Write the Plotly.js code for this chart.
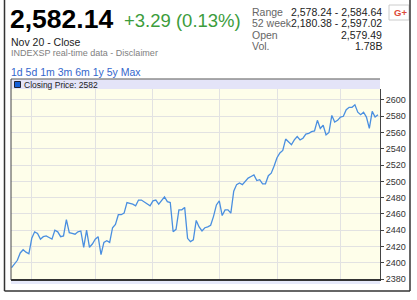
<!DOCTYPE html>
<html>
<head>
<meta charset="utf-8">
<script src="https://cdn.plot.ly/plotly-3.0.1.min.js"></script>
<style>
html,body{margin:0;padding:0;background:#fff;}
#chart{width:417px;height:300px;}
</style>
</head>
<body>
<div id="chart"></div>
<script>
// ---- data ----
const dates = [
'2017-05-22','2017-05-23','2017-05-24','2017-05-25','2017-05-26','2017-05-30','2017-05-31',
'2017-06-01','2017-06-02','2017-06-05','2017-06-06','2017-06-07','2017-06-08','2017-06-09','2017-06-12','2017-06-13','2017-06-14','2017-06-15','2017-06-16','2017-06-19','2017-06-20','2017-06-21','2017-06-22','2017-06-23','2017-06-26','2017-06-27','2017-06-28','2017-06-29','2017-06-30',
'2017-07-03','2017-07-05','2017-07-06','2017-07-07','2017-07-10','2017-07-11','2017-07-12','2017-07-13','2017-07-14','2017-07-17','2017-07-18','2017-07-19','2017-07-20','2017-07-21','2017-07-24','2017-07-25','2017-07-26','2017-07-27','2017-07-28','2017-07-31',
'2017-08-01','2017-08-02','2017-08-03','2017-08-04','2017-08-07','2017-08-08','2017-08-09','2017-08-10','2017-08-11','2017-08-14','2017-08-15','2017-08-16','2017-08-17','2017-08-18','2017-08-21','2017-08-22','2017-08-23','2017-08-24','2017-08-25','2017-08-28','2017-08-29','2017-08-30','2017-08-31',
'2017-09-01','2017-09-05','2017-09-06','2017-09-07','2017-09-08','2017-09-11','2017-09-12','2017-09-13','2017-09-14','2017-09-15','2017-09-18','2017-09-19','2017-09-20','2017-09-21','2017-09-22','2017-09-25','2017-09-26','2017-09-27','2017-09-28','2017-09-29',
'2017-10-02','2017-10-03','2017-10-04','2017-10-05','2017-10-06','2017-10-09','2017-10-10','2017-10-11','2017-10-12','2017-10-13','2017-10-16','2017-10-17','2017-10-18','2017-10-19','2017-10-20','2017-10-23','2017-10-24','2017-10-25','2017-10-26','2017-10-27','2017-10-30','2017-10-31',
'2017-11-01','2017-11-02','2017-11-03','2017-11-06','2017-11-07','2017-11-08','2017-11-09','2017-11-10','2017-11-13','2017-11-14','2017-11-15','2017-11-16','2017-11-17','2017-11-20'
];
const closes = [
2394,2398,2403,2412,2416,2413,2411,
2430,2438,2436,2429,2432,2433,2431,2429,2440,2438,2432,2433,2453,2437,2436,2435,2438,2439,2419,2440,2419,2423,
2429,2432,2410,2425,2427,2425,2443,2447,2459,2459,2461,2474,2473,2472,2470,2477,2477,2475,2472,2470,
2476,2477,2472,2477,2481,2475,2474,2438,2441,2465,2465,2468,2430,2426,2428,2452,2444,2439,2443,2444,2446,2457,2471,
2476,2458,2465,2465,2461,2488,2496,2498,2496,2500,2504,2506,2508,2501,2502,2497,2497,2507,2510,2519,
2529,2535,2538,2552,2549,2545,2551,2555,2551,2553,2558,2559,2561,2562,2575,2565,2569,2557,2560,2581,2573,2575,
2579,2580,2588,2591,2591,2594,2585,2582,2585,2579,2565,2586,2579,2582
];
const monthStarts = ['2017-06-01','2017-07-03','2017-08-01','2017-09-01','2017-10-02','2017-11-01'];
const yTicks = [2380,2400,2420,2440,2460,2480,2500,2520,2540,2560,2580,2600];
const priceText = '2,582.14';
const changeText = '+3.29 (0.13%)';
const dateText = 'Nov 20 - Close';
const sourceText = 'INDEXSP real-time data - Disclaimer';
const periods = ['1d','5d','1m','3m','6m','1y','5y','Max'];
const statLabels = ['Range','52 week','Open','Vol.'];
const statValues = ['2,578.24 - 2,584.64','2,180.38 - 2,597.02','2,579.49','1.78B'];
const legendText = 'Closing Price: 2582';

// ---- pixel helpers (plot area 11..380 x 89..279) ----
const L=11, R=380, T=89, B=279;
const px = v => (v-L)/(R-L);
const py = v => (B-v)/(B-T);
const FONT = 'Arial, "Liberation Sans", sans-serif';

function txt(text, x, y, size, color, opts){
  return Object.assign({text:text, x:px(x), y:py(y), xref:'paper', yref:'paper',
    xanchor:'left', yanchor:'middle', showarrow:false, borderpad:0,
    font:{family:FONT, size:size, color:color}}, opts||{});
}
function rect(x0,y0,x1,y1,fill,lc,lw){
  return {type:'rect', xref:'paper', yref:'paper', x0:px(x0), x1:px(x1), y0:py(y0), y1:py(y1),
    fillcolor:fill, line:{color:lc||fill, width:lw===undefined?0:lw}, layer:'above'};
}
function line(x0,y0,x1,y1,color,w){
  return {type:'line', xref:'paper', yref:'paper', x0:px(x0), x1:px(x1), y0:py(y0), y1:py(y1),
    line:{color:color, width:w}, layer:'above'};
}

const annotations = [
  txt('<b>'+priceText+'</b>', 9, 19, 26.5, '#000'),
  txt(changeText, 123, 20, 18.5, '#3c9c3c'),
  txt(dateText, 10, 42, 10.5, '#222'),
  txt(sourceText, 10, 53.5, 9, '#808080'),
  txt(periods.join(' '), 10, 72, 10.5, '#3366cc'),
  txt(legendText, 23, 84.5, 8.5, '#222'),
  txt('<b>G+</b>', 393, 12.5, 9.5, '#dd4b39')
];
const rowY = [12, 23.5, 35, 46.3];
statLabels.forEach((s,i)=>annotations.push(txt(s, 251, rowY[i], 10.5, '#666')));
statValues.forEach((s,i)=>annotations.push(txt(s, 383, rowY[i], 10.5, '#222', {xanchor:'right'})));

const shapes = [
  rect(11, 79.5, 380, 89, '#e4e4f8'),
  line(11, 79, 380, 79, '#555', 1),
  line(11, 79, 11, 280, '#444', 1),
  rect(11, 281, 380, 284, '#e6e9fa'),
  rect(14.5, 81.5, 20.5, 87.5, '#1560d8', '#223', 1),
  rect(389, 5, 409, 20, '#ffffff', '#cccccc', 1),
  line(4.5, 0, 4.5, 291, '#333', 1.5),
  line(4.5, 291, 410, 291, '#333', 1.5),
  line(410, 0, 410, 291, '#333', 1.5)
];

const trace = {
  x: dates, y: closes, type:'scatter', mode:'lines',
  line:{color:'#4a8fe0', width:1.3}, hoverinfo:'skip'
};

const layout = {
  width:417, height:300,
  margin:{l:L, r:417-R, t:T, b:300-B, pad:0},
  paper_bgcolor:'#ffffff', plot_bgcolor:'#fefeea',
  showlegend:false,
  font:{family:FONT},
  xaxis:{type:'category', range:[-0.2, 127.7], showgrid:true, gridcolor:'#e2e2e2', gridwidth:1,
    tickmode:'array', tickvals:monthStarts, showticklabels:false, ticks:'',
    showline:true, linecolor:'#333', linewidth:2, zeroline:false, fixedrange:true},
  yaxis:{side:'right', range:[2380, 2613.5], tickmode:'array', tickvals:yTicks,
    ticktext:yTicks.map(String), showgrid:true, gridcolor:'#e2e2e2', gridwidth:1,
    showline:true, linecolor:'#444', linewidth:1, ticks:'outside', ticklen:3, tickcolor:'#444',
    tickfont:{family:FONT, size:9, color:'#333'}, zeroline:false, fixedrange:true},
  shapes: shapes,
  annotations: annotations
};

Plotly.newPlot('chart', [trace], layout, {staticPlot:true, displayModeBar:false});
</script>
</body>
</html>
